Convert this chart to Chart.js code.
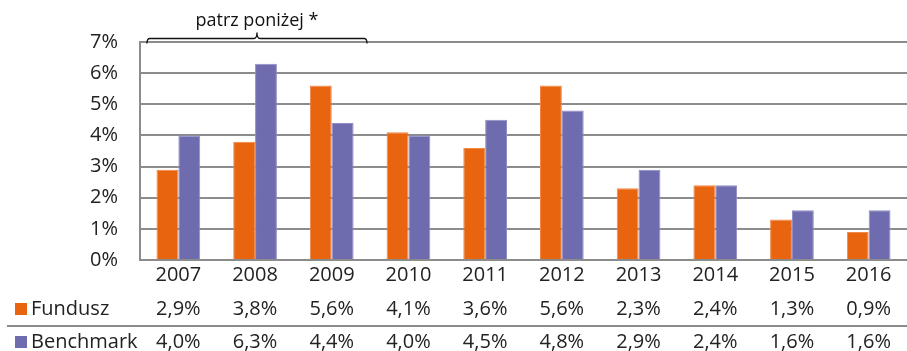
<!DOCTYPE html>
<html>
<head>
<meta charset="utf-8">
<script src="https://cdn.jsdelivr.net/npm/chart.js@4/dist/chart.umd.min.js"></script>
<style>
  html, body { margin: 0; padding: 0; background: #fff; }
  #wrap { width: 907px; height: 351px; position: relative; }
</style>
</head>
<body>
<div id="wrap"><canvas id="c" width="907" height="351"></canvas></div>
<script>
// Annual returns, fund vs benchmark
const years = ['2007', '2008', '2009', '2010', '2011', '2012', '2013', '2014', '2015', '2016'];
const fundusz = [2.9, 3.8, 5.6, 4.1, 3.6, 5.6, 2.3, 2.4, 1.3, 0.9];
const benchmark = [4.0, 6.3, 4.4, 4.0, 4.5, 4.8, 2.9, 2.4, 1.6, 1.6];
const seriesNames = ['Fundusz', 'Benchmark'];
const bracketNote = 'patrz poniżej *';
const bracketFrom = 0;   // index of first bracketed year
const bracketTo = 2;     // index of last bracketed year

const FONT = '"Open Sans", "Noto Sans", sans-serif';
const ORANGE = '#E8640F';
const PURPLE = '#6E6BAF';
const GRID = '#8c8c8c';
const TEXT = '#222222';

const fmt = v => v.toFixed(1).replace('.', ',') + '%';

// Data table under the x axis plus the bracket annotation above the first years
const extras = {
  id: 'extras',
  afterDraw(chart) {
    const ctx = chart.ctx;
    const x = chart.scales.x;
    const cw = x.getPixelForValue(1) - x.getPixelForValue(0);
    ctx.save();

    // table rows
    const rows = [
      { name: seriesNames[0], color: ORANGE, vals: fundusz, y: 309 },
      { name: seriesNames[1], color: PURPLE, vals: benchmark, y: 342 }
    ];
    ctx.font = '20px ' + FONT;
    ctx.textBaseline = 'middle';
    rows.forEach(r => {
      ctx.fillStyle = r.color;
      ctx.fillRect(15, r.y - 6, 12, 12);
      ctx.fillStyle = TEXT;
      ctx.textAlign = 'left';
      ctx.fillText(r.name, 31, r.y);
      ctx.textAlign = 'center';
      r.vals.forEach((v, i) => ctx.fillText(fmt(v), x.getPixelForValue(i), r.y));
    });
    // separator between rows
    ctx.strokeStyle = GRID;
    ctx.lineWidth = 2;
    ctx.beginPath();
    ctx.moveTo(7, 326);
    ctx.lineTo(chart.width, 326);
    ctx.stroke();

    // bracket
    const x1 = x.getPixelForValue(bracketFrom) - cw * 0.41;
    const x2 = x.getPixelForValue(bracketTo) + cw * 0.46;
    const xm = (x1 + x2) / 2;
    const yb = 38.5;
    ctx.strokeStyle = '#111';
    ctx.lineWidth = 1.3;
    ctx.beginPath();
    ctx.moveTo(x1, yb + 5);
    ctx.quadraticCurveTo(x1, yb, x1 + 3, yb);
    ctx.lineTo(xm - 3, yb);
    ctx.quadraticCurveTo(xm, yb, xm, yb - 6);
    ctx.quadraticCurveTo(xm, yb, xm + 3, yb);
    ctx.lineTo(x2 - 3, yb);
    ctx.quadraticCurveTo(x2, yb, x2, yb + 5);
    ctx.stroke();
    ctx.fillStyle = '#111';
    ctx.font = '18px ' + FONT;
    ctx.textAlign = 'center';
    ctx.textBaseline = 'alphabetic';
    ctx.fillText(bracketNote, xm, 26);
    ctx.restore();
  }
};

new Chart(document.getElementById('c'), {
  type: 'bar',
  data: {
    labels: years,
    datasets: [
      { label: seriesNames[0], data: fundusz, backgroundColor: ORANGE, borderColor: '#F08848', borderWidth: 1 },
      { label: seriesNames[1], data: benchmark, backgroundColor: PURPLE, borderColor: '#8F8DC6', borderWidth: 1 }
    ]
  },
  options: {
    responsive: false,
    animation: false,
    devicePixelRatio: 1,
    categoryPercentage: 0.57,
    barPercentage: 1,
    layout: { padding: { top: 42, bottom: 69, left: 0, right: 0 } },
    plugins: { legend: { display: false }, tooltip: { enabled: false } },
    scales: {
      x: {
        grid: { display: false },
        border: { display: true, color: GRID, width: 2 },
        ticks: { font: { family: FONT, size: 20 }, color: TEXT, padding: -5 }
      },
      y: {
        min: 0,
        max: 7,
        afterFit(s) { s.width = 140; },
        ticks: { stepSize: 1, font: { family: FONT, size: 20 }, color: TEXT, padding: 22,
                 callback: v => v + '%' },
        grid: { color: GRID, lineWidth: 2, drawTicks: false },
        border: { display: true, color: GRID, width: 2 }
      }
    }
  },
  plugins: [extras]
});
</script>
</body>
</html>
